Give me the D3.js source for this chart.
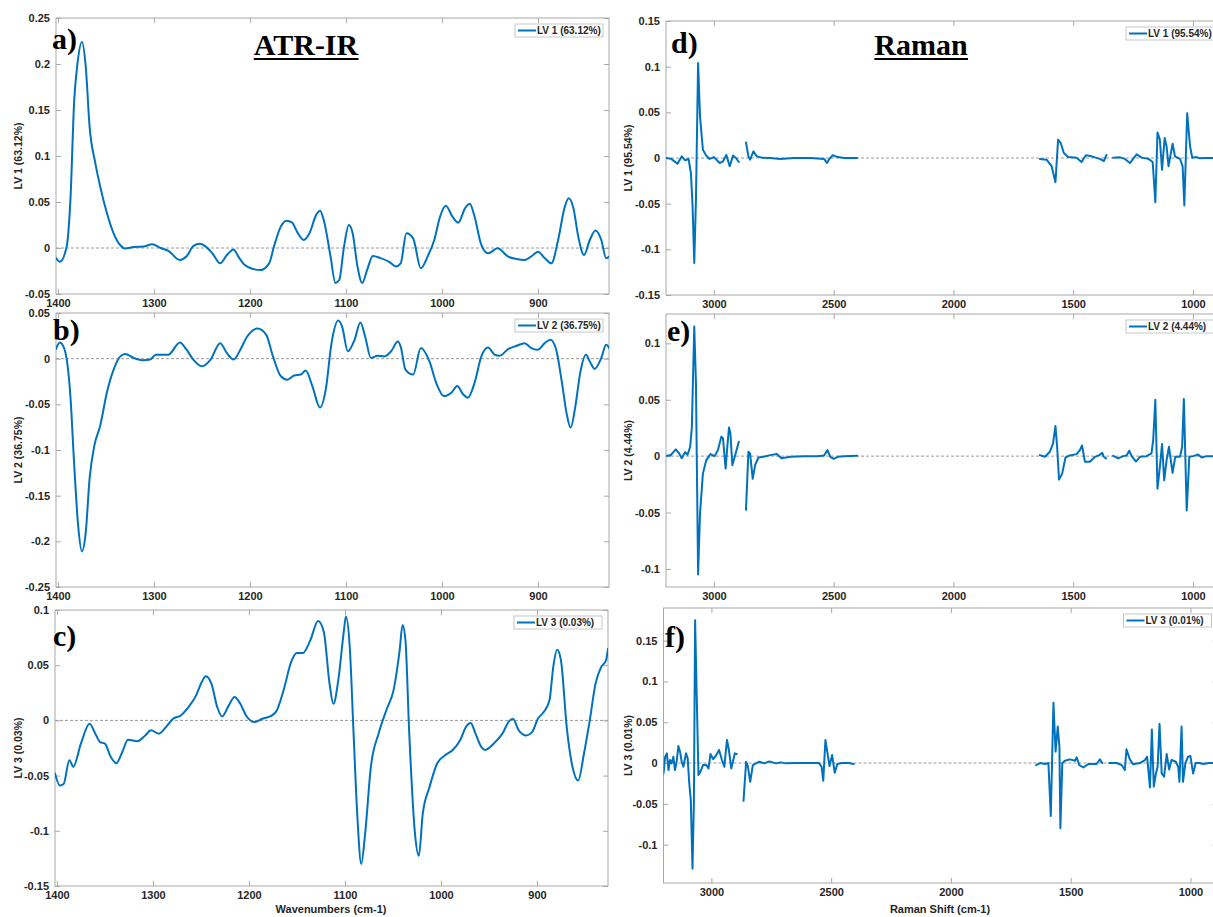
<!DOCTYPE html>
<html><head><meta charset="utf-8">
<script src="https://cdn.jsdelivr.net/npm/d3@7"></script>
<style>body{margin:0;background:#fff}svg{display:block}</style>
</head><body><svg id="chart" width="1213" height="917"></svg>
<script>
// ---------- DATA ----------
const irTicks = [1400, 1300, 1200, 1100, 1000, 900];
const ramanTicks = [3000, 2500, 2000, 1500, 1000];
const yTicksA = [-0.05, 0, 0.05, 0.1, 0.15, 0.2, 0.25];
const yTicksB = [-0.25, -0.2, -0.15, -0.1, -0.05, 0, 0.05];
const yTicksC = [-0.15, -0.1, -0.05, 0, 0.05, 0.1];
const yTicksD = [-0.15, -0.1, -0.05, 0, 0.05, 0.1, 0.15];
const yTicksE = [-0.1, -0.05, 0, 0.05, 0.1];
const yTicksF = [-0.1, -0.05, 0, 0.05, 0.1, 0.15];

const irWaveLV1 = [1402,1398,1391,1387,1383,1380,1375,1371,1367,1361,1356,1349,1342,1335,1330,1321,1311,1302,1293,1285,1273,1266,1259,1252,1246,1239,1231,1224,1217,1212,1206,1196,1189,1180,1175,1168,1162,1156,1151,1144,1138,1131,1127,1123,1116,1111,1107,1102,1097,1093,1088,1083,1078,1072,1064,1055,1048,1043,1037,1030,1022,1015,1008,1002,996,989,983,976,971,966,959,952,942,931,922,914,905,900,893,886,879,872,868,863,858,852,846,840,834,829,824];
const irLV1 = [-0.011,-0.015,0.001,0.052,0.161,0.197,0.224,0.197,0.132,0.092,0.067,0.038,0.016,0.003,-0.0005,0.001,0.0015,0.004,0,-0.003,-0.013,-0.009,0.002,0.0045,0.0015,-0.006,-0.0167,-0.0076,-0.0015,-0.0094,-0.018,-0.023,-0.024,-0.0167,0.0015,0.023,0.0297,0.0276,0.0178,0.0087,0.016,0.036,0.0406,0.030,-0.0094,-0.038,-0.0348,0.0015,0.025,0.016,-0.020,-0.038,-0.024,-0.0087,-0.011,-0.015,-0.020,-0.0167,0.016,0.0105,-0.022,-0.0094,0.0087,0.034,0.046,0.034,0.0276,0.043,0.048,0.034,0.0033,-0.0058,-0.0004,-0.0094,-0.012,-0.013,-0.0076,-0.004,-0.011,-0.0167,0.0087,0.045,0.054,0.043,0.0123,-0.0076,0.0087,0.019,0.0087,-0.011,-0.0076];

const irWaveLV2 = [1402,1398,1393,1387,1383,1379,1375,1371,1367,1362,1356,1349,1342,1335,1330,1321,1311,1304,1298,1285,1273,1266,1259,1250,1241,1231,1224,1217,1210,1203,1192,1183,1176,1168,1161,1154,1147,1142,1135,1127,1121,1115,1108,1104,1098,1091,1085,1080,1074,1067,1060,1053,1046,1043,1038,1030,1022,1013,1006,998,990,984,978,973,966,959,952,945,940,931,922,914,907,900,893,887,881,875,870,866,861,856,850,846,841,834,829,824];
const irLV2 = [0.0105,0.0177,0.0098,-0.041,-0.117,-0.182,-0.211,-0.190,-0.131,-0.095,-0.0736,-0.037,-0.012,0.0025,0.005,0.0008,-0.0018,-0.001,0.0043,0.0043,0.0177,0.0098,-0.001,-0.0083,-0.001,0.017,0.006,-0.001,0.0098,0.024,0.033,0.026,0.0025,-0.019,-0.023,-0.0185,-0.0174,-0.013,-0.030,-0.0536,-0.0337,0.017,0.0417,0.035,0.008,0.0207,0.0395,0.0243,0.0008,0.0033,0.0025,0.008,0.0188,0.0134,-0.012,-0.0174,0.0116,-0.003,-0.0264,-0.041,-0.037,-0.030,-0.039,-0.0427,-0.0264,0.0025,0.0123,0.0043,0.0033,0.0105,0.0141,0.017,0.0116,0.0098,0.017,0.0207,0.0098,-0.0264,-0.061,-0.0754,-0.052,-0.0156,0.0043,-0.003,-0.0112,0.0008,0.0152,0.008];

const irWaveLV3 = [1402,1397,1393,1387,1383,1375,1366,1360,1355,1350,1344,1338,1332,1326,1316,1308,1302,1294,1285,1279,1271,1263,1255,1249,1245,1239,1233,1228,1221,1215,1209,1203,1194,1186,1176,1171,1164,1156,1150,1144,1136,1128,1122,1116,1112,1107,1101,1099,1095,1091,1087,1083,1079,1073,1065,1057,1049,1043,1040,1037,1033,1027,1023,1019,1012,1004,996,988,980,974,969,964,958,954,945,936,929,925,919,911,905,899,893,887,883,879,875,869,863,857,851,845,839,833,828,826];
const irLV3 = [-0.0479,-0.059,-0.0576,-0.036,-0.042,-0.021,-0.003,-0.012,-0.0197,-0.021,-0.033,-0.0388,-0.0288,-0.0176,-0.0188,-0.0136,-0.009,-0.012,-0.0045,0.0015,0.0045,0.012,0.0227,0.035,0.040,0.033,0.012,0.0036,0.0136,0.0212,0.015,0.0045,-0.0015,0.0015,0.0045,0.009,0.027,0.053,0.061,0.061,0.0727,0.090,0.080,0.033,0.015,0.036,0.0818,0.094,0.0667,-0.012,-0.088,-0.130,-0.103,-0.042,-0.012,0.009,0.0288,0.0636,0.0864,0.0727,-0.012,-0.103,-0.1227,-0.085,-0.0606,-0.039,-0.0318,-0.027,-0.018,-0.006,-0.0024,-0.012,-0.024,-0.0267,-0.021,-0.012,-0.0006,0.0015,-0.009,-0.0136,-0.0106,0.0015,0.0076,0.018,0.0485,0.064,0.0545,-0.006,-0.042,-0.0545,-0.030,0,0.0333,0.0485,0.0545,0.065];

// Raman: null values mark gaps between spectral windows
const ramanShiftLV1 = [3200,3180,3152,3134,3120,3106,3096,3089,3082,3075,3066,3058,3046,3032,3018,3000,2976,2962,2948,2934,2920,2908,2896, 2880, 2866,2856,2849,2835,2821,2800,2765,2723,2666,2596,2540,2528,2518,2504,2483,2455,2402, 2000, 1639,1611,1590,1574,1563,1552,1539,1521,1486,1465,1447,1423,1389,1372,1361, 1345, 1333,1305,1284,1263,1249,1235,1214,1187,1168,1157,1148,1138,1129,1118,1110,1102,1085,1075,1054,1043,1036,1024,1012,1003,985,971,943,917,885];
const ramanLV1 = [0,-0.0007,-0.0062,0.0018,-0.0026,-0.001,-0.0164,-0.053,-0.115,-0.0456,0.104,0.0456,0.009,0.0026,-0.001,0.001,-0.0055,-0.0036,0.0033,-0.009,0.0026,0,-0.0044, null, 0.017,0.0018,-0.0018,0.0073,0.0018,0.0004,0,-0.001,0,0,-0.001,-0.0055,-0.001,0.003,0.001,0,0, null, -0.001,-0.0018,-0.009,-0.0266,0.020,0.0164,0.0055,0.001,0.0004,-0.0044,0.003,0.0018,-0.001,-0.0033,0.0033, null, 0.0004,0.0007,-0.001,-0.0055,-0.0007,0.004,0.0004,-0.0007,-0.0044,-0.0485,0.028,0.020,-0.0128,0.0219,0.0128,-0.009,0.0157,0.0018,-0.001,-0.009,-0.052,0.049,0.0128,0.0004,0.001,-0.0004,0,0,0];

const ramanShiftLV2 = [3200,3180,3159,3145,3134,3120,3110,3099,3092,3082,3075,3066,3058,3046,3032,3014,2997,2983,2969,2962,2951,2944,2937,2931,2923,2913,2896, 2880, 2866,2856,2849,2838,2828,2814,2793,2765,2737,2718,2680,2624,2568,2540,2526,2514,2500,2483,2455,2402, 2000, 1639,1618,1597,1584,1574,1567,1559,1546,1532,1514,1486,1472,1463,1451,1430,1409,1391,1379,1372,1363, 1345, 1333,1312,1291,1277,1266,1256,1238,1221,1194,1173,1166,1157,1148,1138,1129,1120,1110,1100,1085,1074,1054,1045,1038,1026,1015,999,978,964,943,917,885];
const ramanLV2 = [0,0.001,0.006,0.0024,-0.0018,0.0036,0.0012,0.0083,0.026,0.115,0.065,-0.105,-0.051,-0.0155,-0.0036,0.0018,0,0.0054,0.0173,0.0158,-0.011,0.0083,0.0253,0.0202,-0.008,-0.0006,0.0128, null, -0.0476,0.0039,0.0024,-0.020,-0.008,-0.0012,-0.0006,0.0009,0.0018,-0.0018,-0.0006,0,0,0.0006,0.0054,-0.0006,-0.0024,-0.0006,0,0.0003, null, 0.0009,-0.0006,0.0039,0.0113,0.0268,0.0083,-0.0208,-0.0155,-0.0012,0.0006,0.0018,0.0054,0.0095,-0.005,-0.005,-0.0006,0.0009,0.003,-0.0006,-0.002, null, 0.0003,-0.002,0,0.0006,0.0048,0,-0.0048,-0.0006,0,0.0024,0.0143,0.050,-0.0289,-0.0095,0.0107,-0.0214,-0.0036,0.0083,-0.0149,-0.0006,-0.0006,0.0083,0.0506,-0.0482,-0.0006,0,0.0015,-0.0012,0,0,0];

const ramanShiftLV3 = [3200,3193,3186,3179,3173,3166,3159,3152,3145,3138,3131,3124,3117,3106,3099,3093,3086,3079,3073,3068,3061,3054,3046,3035,3021,3012,3004,2993,2982,2968,2956,2946,2935,2927,2917,2902,2894, 2880, 2866,2855,2848,2838,2827,2814,2800,2779,2758,2731,2710,2689,2648,2593,2551,2540,2533,2524,2514,2507,2496,2485,2474,2454,2427,2406, 2000, 1644,1628,1607,1593,1583,1572,1563,1554,1547,1543,1535,1524,1503,1482,1475,1464,1447,1426,1392,1378,1368, 1350, 1339,1308,1287,1274,1267,1253,1239,1211,1190,1181,1169,1161,1153,1144,1137,1129,1120,1110,1099,1089,1079,1061,1051,1046,1037,1031,1021,1010,1000,989,978,961,947,921,885];
const ramanLV3 = [-0.0127,0.0078,0.0119,-0.0086,0.0037,-0.0004,0.0078,-0.0086,0.0016,0.0209,0.0139,0.0016,-0.0045,0.0119,0.0057,-0.023,-0.0455,-0.1295,-0.0455,0.175,0.0775,-0.0148,-0.0107,-0.0025,-0.0025,-0.0066,0.011,0.0049,0.0086,0.016,0.0037,-0.0045,0.0283,0.016,-0.0066,0.0119,0.011, null, -0.0463,0.0016,-0.0037,-0.023,-0.0025,-0.0004,0.0016,-0.0004,0.002,-0.0004,0.0008,-0.0004,0,0,0,-0.0045,-0.0217,0.0283,0.0098,-0.0037,0.0098,-0.0119,-0.0012,0,0,-0.0012, null, -0.0025,0,-0.0012,0,-0.065,0.074,0.014,0.0447,0.020,-0.080,0,0.0029,0.0045,0.0029,0.007,-0.0025,-0.0053,-0.0012,-0.0012,0.0045,0, null, 0,0,-0.0025,-0.0086,0.0168,0.0045,-0.0016,0,0.0037,0.0078,-0.030,0.041,-0.029,-0.0127,-0.0045,0.048,-0.0127,-0.0168,0.011,-0.0078,0.0037,0.0016,-0.0045,-0.023,0.0447,-0.023,0,0.0078,0.0086,-0.0127,0,0,-0.0012,0,0];

// ---------- DRAWING ----------
const svg = d3.select('#chart');
const BLUE = '#0072BD', BOX = '#a8a8a8', TXT = '#262626';
const FONT = '"Liberation Sans", Arial, sans-serif';
const SERIF = '"Liberation Serif", "Times New Roman", serif';

const panels = [
  {letter:'a)', lx:52, ly:49, left:56, right:609, top:18, bottom:294, xd:[1402,826], yd:[-0.05,0.25], xt:irTicks, yt:yTicksA, xs:irWaveLV1, ys:irLV1, lab:'LV 1 (63.12%)', smooth:true},
  {letter:'b)', lx:53, ly:340, left:56, right:609, top:313, bottom:587, xd:[1402,826], yd:[-0.25,0.05], xt:irTicks, yt:yTicksB, xs:irWaveLV2, ys:irLV2, lab:'LV 2 (36.75%)', smooth:true},
  {letter:'c)', lx:53, ly:646, left:55, right:608, top:610, bottom:886, xd:[1402,826], yd:[-0.15,0.1], xt:irTicks, yt:yTicksC, xs:irWaveLV3, ys:irLV3, lab:'LV 3 (0.03%)', smooth:true, xtitle:'Wavenumbers (cm-1)', tx:331},
  {letter:'d)', lx:671, ly:53, left:666, right:1220, top:21, bottom:295, xd:[3200,887], yd:[-0.15,0.15], xt:ramanTicks, yt:yTicksD, xs:ramanShiftLV1, ys:ramanLV1, lab:'LV 1 (95.54%)', smooth:false},
  {letter:'e)', lx:667, ly:341, left:666, right:1220, top:314, bottom:587, xd:[3200,887], yd:[-0.116,0.126], xt:ramanTicks, yt:yTicksE, xs:ramanShiftLV2, ys:ramanLV2, lab:'LV 2 (4.44%)', smooth:false},
  {letter:'f)', lx:665, ly:647, left:663.5, right:1217.5, top:608, bottom:883, xd:[3200,887], yd:[-0.147,0.19], xt:ramanTicks, yt:yTicksF, xs:ramanShiftLV3, ys:ramanLV3, lab:'LV 3 (0.01%)', smooth:false, xtitle:'Raman Shift (cm-1)', tx:940}
];

const fmt = d => String(d);

panels.forEach((p, i) => {
  const x = d3.scaleLinear().domain(p.xd).range([p.left, p.right]);
  const y = d3.scaleLinear().domain(p.yd).range([p.bottom, p.top]);
  const g = svg.append('g');
  const w = p.right - p.left, h = p.bottom - p.top;

  g.append('rect').attr('x', p.left).attr('y', p.top).attr('width', w).attr('height', h)
    .attr('fill', '#fff');

  // zero line
  g.append('line').attr('x1', p.left).attr('x2', p.right).attr('y1', y(0)).attr('y2', y(0))
    .attr('stroke', '#9a9a9a').attr('stroke-width', 1).attr('stroke-dasharray', '3,2');

  // axes
  const styleAxis = sel => {
    sel.select('.domain').remove();
    sel.selectAll('.tick line').attr('stroke', BOX).attr('stroke-width', 1);
    sel.selectAll('.tick text').attr('fill', TXT).attr('font-family', FONT)
      .attr('font-weight', 'bold').attr('font-size', '11px');
  };
  g.append('g').attr('transform', `translate(0,${p.bottom})`)
    .call(d3.axisBottom(x).tickValues(p.xt).tickFormat(fmt).tickSize(-5).tickPadding(5)).call(styleAxis);
  g.append('g').attr('transform', `translate(0,${p.top})`)
    .call(d3.axisTop(x).tickValues(p.xt).tickFormat('').tickSize(-5)).call(styleAxis);
  g.append('g').attr('transform', `translate(${p.left},0)`)
    .call(d3.axisLeft(y).tickValues(p.yt).tickFormat(fmt).tickSize(-5).tickPadding(6)).call(styleAxis);
  g.append('g').attr('transform', `translate(${p.right},0)`)
    .call(d3.axisRight(y).tickValues(p.yt).tickFormat('').tickSize(-5)).call(styleAxis);

  // box
  g.append('rect').attr('x', p.left).attr('y', p.top).attr('width', w).attr('height', h)
    .attr('fill', 'none').attr('stroke', BOX).attr('stroke-width', 1);

  // clip + line
  const cid = 'clip' + i;
  svg.append('clipPath').attr('id', cid).append('rect')
    .attr('x', p.left).attr('y', p.top).attr('width', w).attr('height', h);
  const data = p.xs.map((v, k) => [v, p.ys[k]]);
  const line = d3.line().defined(d => d[1] !== null).x(d => x(d[0])).y(d => y(d[1]))
    .curve(p.smooth ? d3.curveMonotoneX : d3.curveLinear);
  g.append('path').datum(data).attr('clip-path', `url(#${cid})`).attr('d', line)
    .attr('fill', 'none').attr('stroke', BLUE).attr('stroke-width', 2)
    .attr('stroke-linejoin', 'round').attr('stroke-linecap', 'round');

  // y label
  const labX = p.left < 300 ? 22 : 632;
  g.append('text').attr('transform', `translate(${labX},${(p.top + p.bottom) / 2}) rotate(-90)`)
    .attr('text-anchor', 'middle').attr('font-family', FONT).attr('font-weight', 'bold')
    .attr('font-size', '10.5px').attr('fill', TXT).text(p.lab);

  // legend
  const lgx = p.right - 94, lgy = p.top + 6;
  g.append('rect').attr('x', lgx).attr('y', lgy).attr('width', 88).attr('height', 13)
    .attr('fill', '#fff').attr('stroke', '#c8c8c8').attr('stroke-width', 1);
  g.append('line').attr('x1', lgx + 3).attr('x2', lgx + 21).attr('y1', lgy + 6.5).attr('y2', lgy + 6.5)
    .attr('stroke', BLUE).attr('stroke-width', 2);
  g.append('text').attr('x', lgx + 22).attr('y', lgy + 10).attr('font-family', FONT)
    .attr('font-weight', 'bold').attr('font-size', '10px').attr('fill', TXT).text(p.lab);

  // panel letter
  g.append('text').attr('x', p.lx).attr('y', p.ly).attr('font-family', SERIF)
    .attr('font-weight', 'bold').attr('font-size', '30px').attr('fill', '#000').text(p.letter);

  if (p.xtitle) {
    g.append('text').attr('x', p.tx).attr('y', 913)
      .attr('text-anchor', 'middle').attr('font-family', FONT).attr('font-weight', 'bold')
      .attr('font-size', '11px').attr('fill', TXT).text(p.xtitle);
  }
});

// titles
[['ATR-IR', 306], ['Raman', 921]].forEach(([t, cx]) => {
  const tx = svg.append('text').attr('x', cx).attr('y', 55).attr('text-anchor', 'middle')
    .attr('font-family', SERIF).attr('font-weight', 'bold').attr('font-size', '30px')
    .attr('fill', '#000').text(t);
  const bb = tx.node().getBBox();
  svg.append('line').attr('x1', bb.x).attr('x2', bb.x + bb.width).attr('y1', 59).attr('y2', 59)
    .attr('stroke', '#000').attr('stroke-width', 2);
});
</script></body></html>
